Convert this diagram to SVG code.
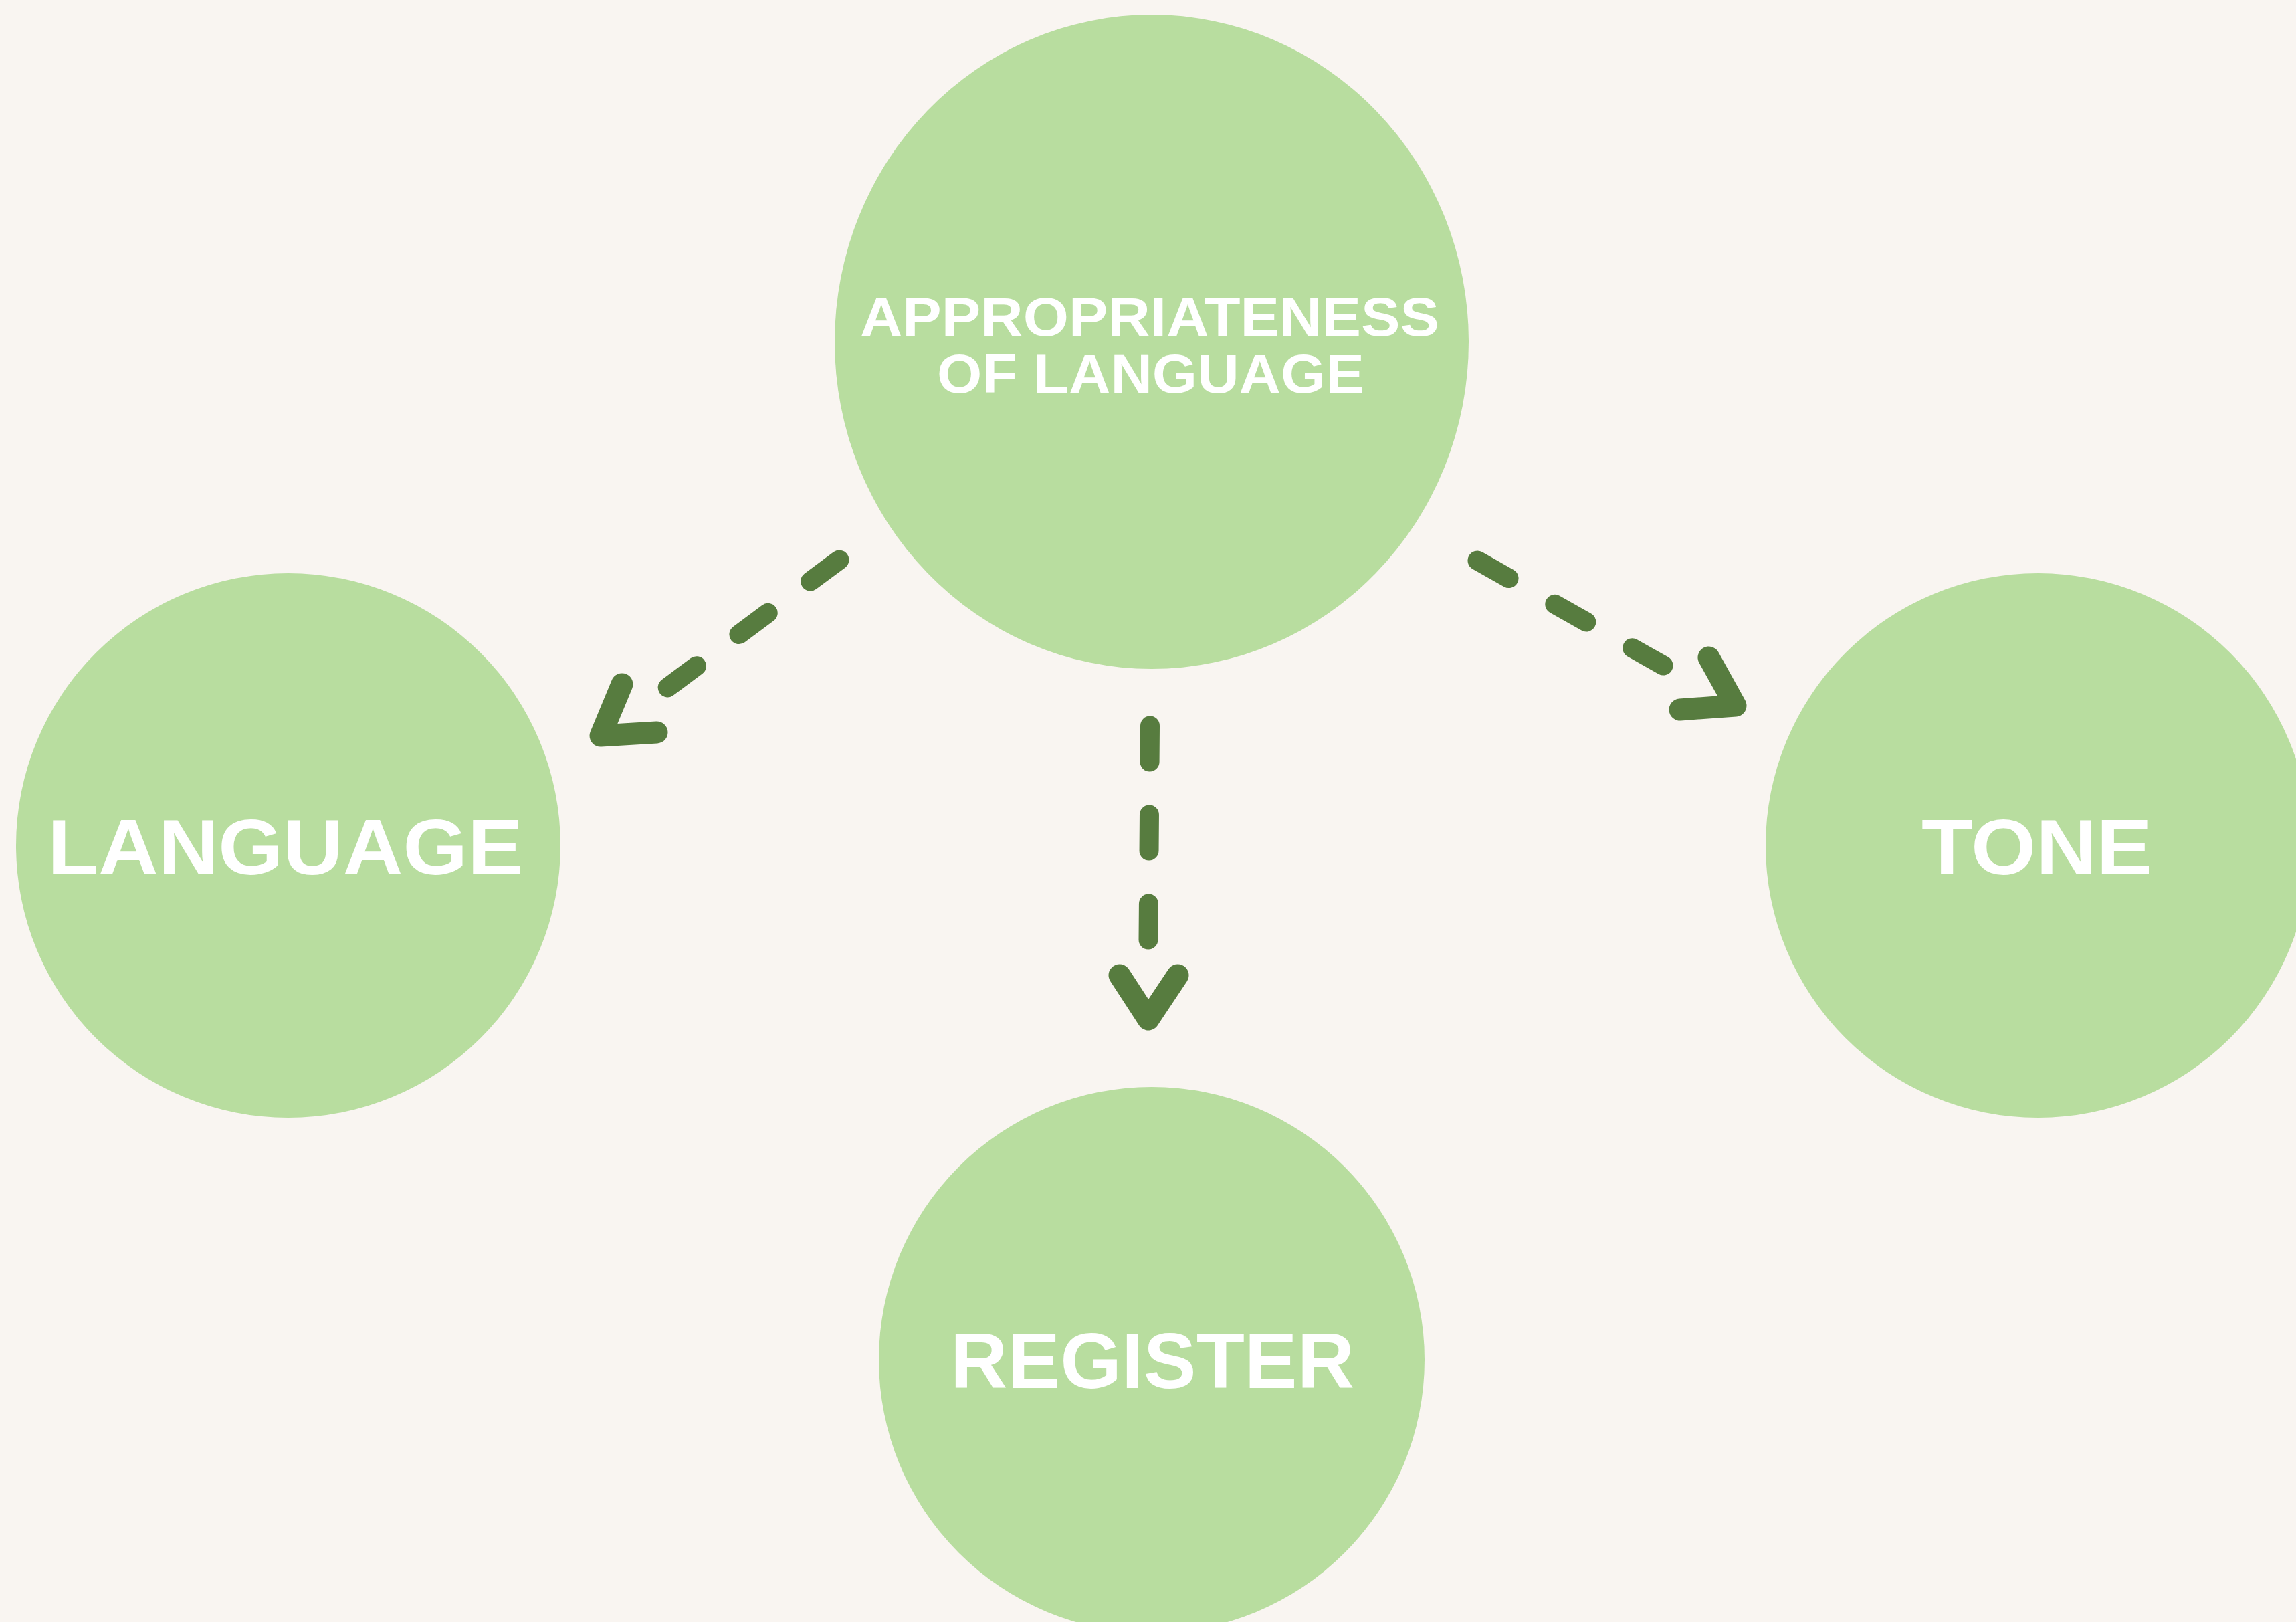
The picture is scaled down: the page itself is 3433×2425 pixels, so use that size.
<svg xmlns="http://www.w3.org/2000/svg" width="3433" height="2425" viewBox="0 0 3433 2425">
<style>
.node{fill:#B8DD9F;}
.lbl{font-family:"Liberation Sans",Arial,sans-serif;font-weight:bold;fill:#FFFFFF;}
.big{font-size:117px;}
.small{font-size:82px;}
.dash{fill:none;stroke:#577C3F;stroke-width:29;stroke-linecap:round;stroke-dasharray:54 79;}
.head{fill:none;stroke:#577C3F;stroke-width:33;stroke-linecap:round;stroke-linejoin:round;}
</style>
<rect x="0" y="0" width="3433" height="2425" fill="#F9F5F1"/>
<g id="node-appropriateness">
<ellipse class="node" cx="1722" cy="511" rx="474" ry="489"/>
<text class="lbl small" x="1286" y="502" textLength="866" lengthAdjust="spacingAndGlyphs">APPROPRIATENESS</text>
<text class="lbl small" x="1401" y="587" textLength="639" lengthAdjust="spacingAndGlyphs">OF LANGUAGE</text>
</g>
<g id="node-language">
<circle class="node" cx="431" cy="1264" r="407"/>
<text class="lbl big" x="71" y="1307" textLength="711" lengthAdjust="spacingAndGlyphs">LANGUAGE</text>
</g>
<g id="node-tone">
<circle class="node" cx="3047" cy="1264" r="407"/>
<text class="lbl big" x="2873" y="1307" textLength="345" lengthAdjust="spacingAndGlyphs">TONE</text>
</g>
<g id="node-register">
<circle class="node" cx="1722" cy="2033" r="408"/>
<text class="lbl big" x="1421" y="2075" textLength="604" lengthAdjust="spacingAndGlyphs">REGISTER</text>
</g>
<g id="connectors">
<path class="dash" d="M1255,837 L998,1028"/>
<polyline class="head" points="930,1023 898,1100 982,1095"/>
<path class="dash" d="M1719.5,1085 L1717,1405"/>
<polyline class="head" points="1674,1458 1717,1524 1761,1458"/>
<path class="dash" d="M2209,838 L2487,995"/>
<polyline class="head" points="2555,983 2595,1055 2512,1061"/>
</g>
</svg>
